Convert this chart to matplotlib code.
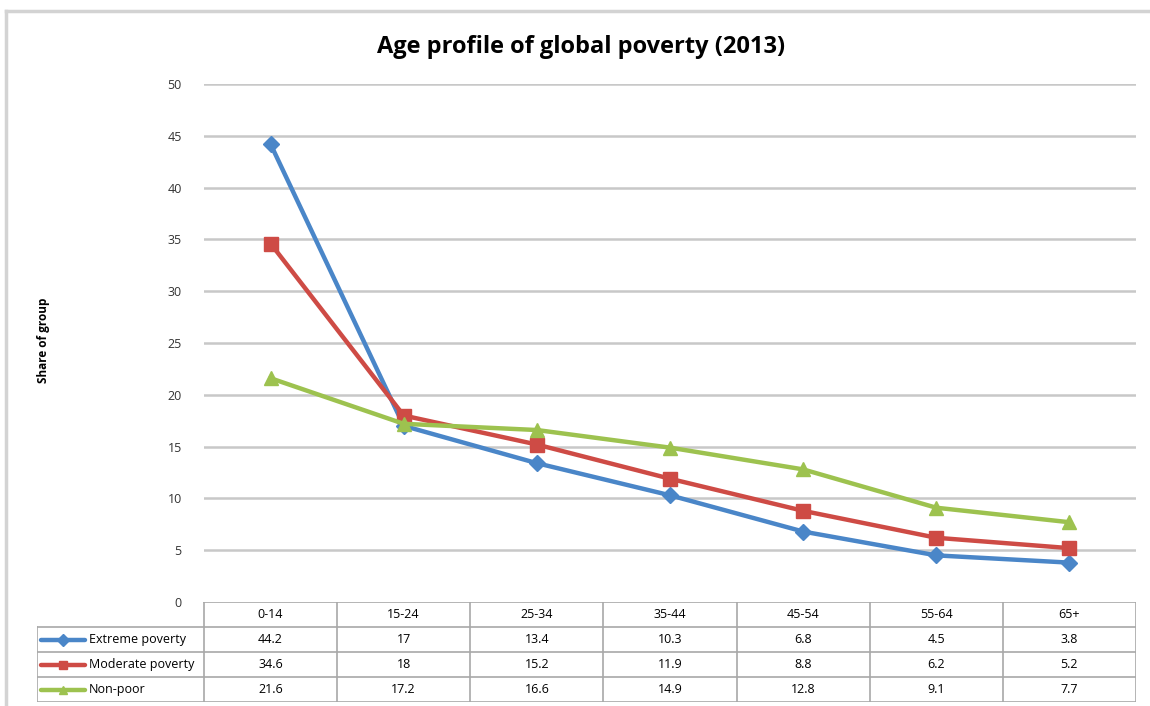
import matplotlib.pyplot as plt
from matplotlib.lines import Line2D

plt.rcParams['font.family'] = ['Open Sans', 'DejaVu Sans']

# data
age_groups = ["0-14", "15-24", "25-34", "35-44", "45-54", "55-64", "65+"]
extreme = [44.2, 17, 13.4, 10.3, 6.8, 4.5, 3.8]
moderate = [34.6, 18, 15.2, 11.9, 8.8, 6.2, 5.2]
nonpoor = [21.6, 17.2, 16.6, 14.9, 12.8, 9.1, 7.7]
series_names = ["Extreme poverty", "Moderate poverty", "Non-poor"]
series_colors = ["#4A86C8", "#CE4B45", "#9DC24F"]
series_markers = ["D", "s", "^"]
yticks = [0, 5, 10, 15, 20, 25, 30, 35, 40, 45, 50]

W, H = 1150, 706
fig = plt.figure(figsize=(W / 100, H / 100), dpi=100)

# chart frame (top and left edges visible)
fig.add_artist(Line2D([6 / W, 6 / W], [0, 1 - 11 / H], transform=fig.transFigure,
                      color="#D3D3D3", lw=2.5))
fig.add_artist(Line2D([6 / W, 1], [1 - 11 / H, 1 - 11 / H], transform=fig.transFigure,
                      color="#D3D3D3", lw=2.5))

left, right = 204 / W, 1136 / W
top, bottom = 1 - 84 / H, 1 - 602 / H
ax = fig.add_axes([left, bottom, right - left, top - bottom])
x = list(range(len(age_groups)))
all_series = [extreme, moderate, nonpoor]
msizes = [8, 10, 10]
for vals, name, c, m, ms in zip(all_series, series_names, series_colors, series_markers, msizes):
    ax.plot(x, vals, color=c, lw=3.2, marker=m, markersize=ms, label=name, zorder=3,
            solid_joinstyle="round")
ax.set_xlim(-0.5, len(age_groups) - 0.5)
ax.set_ylim(0, 50)
ax.set_yticks(yticks)
ax.set_xticks([])
for yv in yticks[1:]:
    ax.axhline(yv, color="#C8C8C8", lw=1.8, zorder=1)
for s in ax.spines.values():
    s.set_visible(False)
ax.tick_params(axis="y", length=0, pad=16, labelsize=9, labelcolor="#333333")
fig.text(43 / W, 1 - 340 / H, "Share of group", rotation=90, ha="center", va="center",
         fontsize=8.5, fontweight="bold")
fig.text(581 / W, 1 - 47 / H, "Age profile of global poverty (2013)", ha="center",
         va="center", fontsize=17, fontweight="bold")

# data table below the plot
tleft = 37 / W
tax = fig.add_axes([tleft, 1 - 702 / H, right - tleft, (702 - 602) / H])
ncol = len(age_groups)
ext = (204 - 37) / ((1136 - 204) / ncol)
tax.set_xlim(-0.5 - ext, ncol - 0.5)
tax.set_ylim(4, 0)
tax.axis("off")
gc = "#A8A8A8"
# horizontal lines
tax.plot([-0.5, ncol - 0.5], [0, 0], color=gc, lw=1.2)
for r in range(1, 5):
    tax.plot([-0.5 - ext, ncol - 0.5], [r, r], color=gc, lw=1.2)
# vertical lines
tax.plot([-0.5 - ext, -0.5 - ext], [1, 4], color=gc, lw=1.2)
for i in range(ncol + 1):
    tax.plot([i - 0.5, i - 0.5], [0, 4], color=gc, lw=1.2)
for i, g in enumerate(age_groups):
    tax.text(i, 0.5, g, ha="center", va="center", fontsize=9)
for r, (vals, name, c, m) in enumerate(zip(all_series, series_names, series_colors, series_markers), 1):
    x0 = -0.5 - ext + 0.03
    yc = r + 0.5
    tax.plot([x0, x0 + 0.33], [yc, yc], color=c, lw=3.2, solid_capstyle="round")
    tax.plot([x0 + 0.165], [yc], marker=m, color=c, markersize=6)
    tax.text(x0 + 0.36, yc, name, ha="left", va="center", fontsize=9)
    for i, v in enumerate(vals):
        tax.text(i, yc, f"{v:g}", ha="center", va="center", fontsize=9)

fig.savefig("out.png", dpi=100)
